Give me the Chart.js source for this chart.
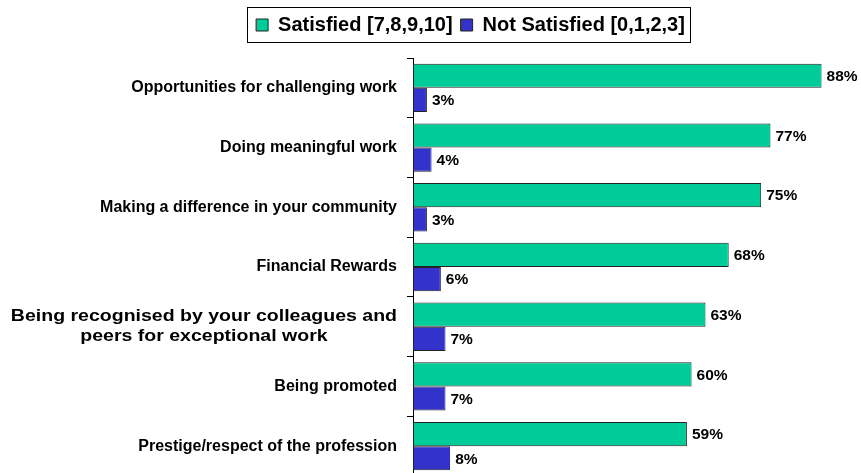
<!DOCTYPE html>
<html lang="en">
<head>
  <meta charset="UTF-8" />
  <title>Satisfaction by aspect</title>
  <style>
    html, body {
      margin: 0;
      padding: 0;
      background: #fff;
      overflow: hidden;
    }

    #wrap {
      position: relative;
      width: 861px;
      height: 480px;
    }
  </style>
</head>
<body>

<div id="wrap">
  <canvas id="satisfactionChart"></canvas>
</div>

<script src="https://cdn.jsdelivr.net/npm/chart.js"></script>

<script>
  const categories = [
    'Opportunities for challenging work',
    'Doing meaningful work',
    'Making a difference in your community',
    'Financial Rewards',
    ['Being recognised by your colleagues and', 'peers for exceptional work'],
    'Being promoted',
    'Prestige/respect of the profession'
  ];
  const satisfied = [88, 77, 75, 68, 63, 60, 59];
  const notSatisfied = [3, 4, 3, 6, 7, 7, 8];
  const seriesNames = ['Satisfied [7,8,9,10]', 'Not Satisfied [0,1,2,3]'];

  const FONT = '"Liberation Sans", Arial, sans-serif';
  const AXIS_X = 413;
  const PAD_LEFT = 80; // pushes the legend to the right of centre

  // taller legend block, with a frame round the items
  const legendFrame = {
    id: 'legendFrame',
    beforeInit(chart) {
      const origFit = chart.legend.fit;
      chart.legend.fit = function () {
        origFit.bind(chart.legend)();
        this.height += 13;
      };
    },
    afterDraw(chart) {
      const boxes = chart.legend.legendHitBoxes;
      if (!boxes || !boxes.length) return;
      const first = boxes[0];
      const last = boxes[boxes.length - 1];
      const ctx = chart.ctx;
      ctx.save();
      ctx.strokeStyle = '#000';
      ctx.lineWidth = 1;
      const left = Math.round(first.left - 9) + 0.5;
      const right = Math.round(last.left + last.width + 5) + 0.5;
      const top = Math.round(first.top - 8) + 0.5;
      const bottom = Math.round(first.top + first.height + 7) + 0.5;
      ctx.strokeRect(left, top, right - left, bottom - top);
      ctx.restore();
    }
  };

  // category names left of the axis, multi-line names centred on their block
  const categoryLabels = {
    id: 'categoryLabels',
    afterDraw(chart) {
      const ctx = chart.ctx;
      const yScale = chart.scales.y;
      ctx.save();
      ctx.font = 'bold 16px ' + FONT;
      ctx.fillStyle = '#000';
      ctx.textBaseline = 'middle';
      const rightEdge = AXIS_X - 16;
      categories.forEach((label, i) => {
        const y = yScale.getPixelForValue(i);
        if (Array.isArray(label)) {
          // wrapped label is set a little wider
          const sx = 1.22;
          const widest = Math.max(...label.map(l => ctx.measureText(l).width)) * sx;
          const cx = rightEdge - widest / 2;
          const lh = 20;
          ctx.save();
          ctx.translate(cx, y);
          ctx.scale(sx, 1);
          ctx.textAlign = 'center';
          label.forEach((line, k) => {
            ctx.fillText(line, 0, (k - (label.length - 1) / 2) * lh);
          });
          ctx.restore();
        } else {
          ctx.textAlign = 'right';
          ctx.fillText(label, rightEdge, y);
        }
      });
      ctx.restore();
    }
  };

  // percentage at the end of every bar
  const valueLabels = {
    id: 'valueLabels',
    afterDatasetsDraw(chart) {
      const ctx = chart.ctx;
      ctx.save();
      ctx.font = 'bold 15.5px ' + FONT;
      ctx.fillStyle = '#000';
      ctx.textAlign = 'left';
      ctx.textBaseline = 'middle';
      chart.data.datasets.forEach((ds, d) => {
        chart.getDatasetMeta(d).data.forEach((bar, i) => {
          ctx.fillText(ds.data[i] + '%', bar.x + 5, bar.y + 1);
        });
      });
      ctx.restore();
    }
  };

  const ctx = document.getElementById('satisfactionChart').getContext('2d');
  new Chart(ctx, {
    type: 'bar',
    data: {
      labels: categories,
      datasets: [
        {
          label: seriesNames[0],
          data: satisfied,
          backgroundColor: '#00CC99',
          borderColor: '#222',
          borderWidth: 1,
          borderSkipped: false,
          categoryPercentage: 0.81,
          barPercentage: 1.0
        },
        {
          label: seriesNames[1],
          data: notSatisfied,
          backgroundColor: '#3333CC',
          borderColor: '#222',
          borderWidth: 1,
          borderSkipped: false,
          categoryPercentage: 0.81,
          barPercentage: 1.0
        }
      ]
    },
    options: {
      indexAxis: 'y',
      responsive: true,
      maintainAspectRatio: false,
      animation: false,
      layout: {
        padding: { top: 7, bottom: 4, left: PAD_LEFT, right: 0 }
      },
      plugins: {
        legend: {
          display: true,
          position: 'top',
          labels: {
            boxWidth: 12,
            boxHeight: 12,
            padding: 8,
            color: '#000',
            font: { family: FONT, size: 20, weight: 'bold' },
            generateLabels(chart) {
              return chart.data.datasets.map((ds, i) => ({
                text: ds.label,
                fillStyle: ds.backgroundColor,
                strokeStyle: '#222',
                lineWidth: 1,
                datasetIndex: i
              }));
            }
          }
        },
        tooltip: { enabled: false }
      },
      scales: {
        x: {
          display: false,
          min: 0,
          max: 96.5
        },
        y: {
          type: 'category',
          position: 'left',
          afterFit(scale) {
            scale.width = AXIS_X - PAD_LEFT;
          },
          ticks: { display: false },
          grid: {
            offset: true,
            drawOnChartArea: false,
            drawTicks: true,
            tickLength: 6,
            color: '#000',
            lineWidth: 1
          },
          border: { display: true, color: '#000', width: 1 }
        }
      }
    },
    plugins: [legendFrame, categoryLabels, valueLabels]
  });
</script>

</body>
</html>
